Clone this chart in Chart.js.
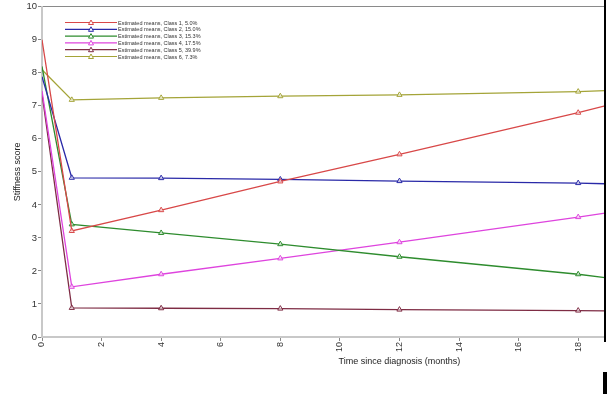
<!DOCTYPE html>
<html>
<head>
<meta charset="utf-8">
<script src="https://cdn.jsdelivr.net/npm/chart.js@4"></script>
<style>
html, body { margin: 0; padding: 0; background: #fff; }
#wrap { width: 613px; height: 394px; position: relative; }
</style>
</head>
<body>
<div id="wrap"><canvas id="stiffChart"></canvas></div>
<script>
// months where the model was estimated, last entry is where the picture is cut off
var months = [0, 1, 4, 8, 12, 18, 18.9];

var class1 = [9.0, 3.21, 3.84, 4.71, 5.53, 6.79, 7.0];
var class2 = [7.88, 4.82, 4.81, 4.77, 4.72, 4.66, 4.64];
var class3 = [8.19, 3.41, 3.15, 2.81, 2.43, 1.9, 1.8];
var class4 = [7.45, 1.52, 1.9, 2.38, 2.87, 3.63, 3.75];
var class5 = [7.36, 0.88, 0.87, 0.86, 0.83, 0.8, 0.79];
var class6 = [8.09, 7.18, 7.24, 7.29, 7.33, 7.43, 7.46];

var labels = [
    'Estimated means, Class 1, 5.0%',
    'Estimated means, Class 2, 15.0%',
    'Estimated means, Class 3, 15.3%',
    'Estimated means, Class 4, 17.5%',
    'Estimated means, Class 5, 39.9%',
    'Estimated means, Class 6, 7.3%'
];
var colors = ['#d84848', '#2a2aa8', '#2e8c2e', '#de44de', '#7e2c44', '#a4a438'];
var yTicks = [0, 1, 2, 3, 4, 5, 6, 7, 8, 9, 10];
var xTicks = [0, 2, 4, 6, 8, 10, 12, 14, 16, 18];

var series = [class1, class2, class3, class4, class5, class6];

function makeDataset(values, i) {
    var pts = [];
    var radii = [];
    for (var k = 0; k < months.length; k++) {
        pts.push({x: months[k], y: values[k]});
        radii.push(k === 0 || k === months.length - 1 ? 0 : 3);
    }
    return {
        label: labels[i],
        data: pts,
        borderColor: colors[i],
        backgroundColor: '#ffffff',
        borderWidth: 1.3,
        pointStyle: 'triangle',
        pointRadius: radii,
        pointBorderWidth: 1,
        pointBorderColor: colors[i],
        pointBackgroundColor: 'rgba(255,255,255,0.6)',
        fill: false,
        tension: 0
    };
}

// little legend inside the plot, top left
var innerLegend = {
    id: 'innerLegend',
    afterDraw: function(chart) {
        var c = chart.ctx;
        c.save();
        c.font = '5.5px "Liberation Sans", Arial, sans-serif';
        c.textBaseline = 'middle';
        for (var i = 0; i < labels.length; i++) {
            var y = 22.5 + i * 6.8;
            c.strokeStyle = colors[i];
            c.lineWidth = 1.2;
            c.beginPath();
            c.moveTo(65, y);
            c.lineTo(117, y);
            c.stroke();
            c.beginPath();
            c.moveTo(91, y - 2.5);
            c.lineTo(93.5, y + 2);
            c.lineTo(88.5, y + 2);
            c.closePath();
            c.fillStyle = '#fff';
            c.fill();
            c.lineWidth = 1;
            c.stroke();
            c.fillStyle = '#333';
            c.fillText(labels[i], 118, y + 0.5);
        }
        c.restore();
    }
};

// x title sits under the middle of the full (uncut) time axis
var xTitle = {
    id: 'xTitle',
    afterDraw: function(chart) {
        var c = chart.ctx;
        var xs = chart.scales.x;
        c.save();
        c.font = '9px "Liberation Sans", Arial, sans-serif';
        c.fillStyle = '#222';
        c.textAlign = 'center';
        c.textBaseline = 'middle';
        c.fillText('Time since diagnosis (months)', xs.getPixelForValue(12), 362);
        // the black edge from the crop of the original figure
        c.fillStyle = '#000';
        c.fillRect(604, 0, 2, 342);
        c.fillRect(603, 372, 4, 22);
        c.restore();
    }
};

var ctx = document.getElementById('stiffChart').getContext('2d');
var stiffChart = new Chart(ctx, {
    type: 'line',
    data: {
        datasets: series.map(makeDataset)
    },
    options: {
        responsive: true,
        maintainAspectRatio: false,
        animation: false,
        layout: {
            padding: {top: 6, right: 8, left: 0, bottom: 0}
        },
        plugins: {
            legend: {display: false},
            tooltip: {enabled: false}
        },
        scales: {
            x: {
                type: 'linear',
                min: 0,
                max: 18.9,
                afterBuildTicks: function(scale) {
                    scale.ticks = xTicks.map(function(v) { return {value: v}; });
                },
                afterFit: function(scale) {
                    scale.height = 57;
                },
                grid: {
                    drawOnChartArea: false,
                    drawTicks: true,
                    tickLength: 4,
                    tickColor: '#888'
                },
                border: {color: '#c8c8c8', width: 2},
                ticks: {
                    minRotation: 90,
                    maxRotation: 90,
                    padding: 1,
                    color: '#333',
                    font: {size: 9, family: '"Liberation Sans", Arial, sans-serif'}
                }
            },
            y: {
                min: 0,
                max: 10,
                afterBuildTicks: function(scale) {
                    scale.ticks = yTicks.map(function(v) { return {value: v}; });
                },
                afterFit: function(scale) {
                    scale.width = 42;
                },
                grid: {
                    color: function(c) { return c.tick && c.tick.value === 10 ? '#8a8a8a' : 'rgba(0,0,0,0)'; },
                    tickLength: 4,
                    tickColor: '#888'
                },
                border: {color: '#c8c8c8', width: 2},
                title: {
                    display: true,
                    text: 'Stiffness score',
                    color: '#222',
                    padding: {top: 12, bottom: 0},
                    font: {size: 9, family: '"Liberation Sans", Arial, sans-serif'}
                },
                ticks: {
                    padding: 1,
                    color: '#333',
                    font: {size: 9.5, family: '"Liberation Sans", Arial, sans-serif'}
                }
            }
        }
    },
    plugins: [innerLegend, xTitle]
});
</script>
</body>
</html>
